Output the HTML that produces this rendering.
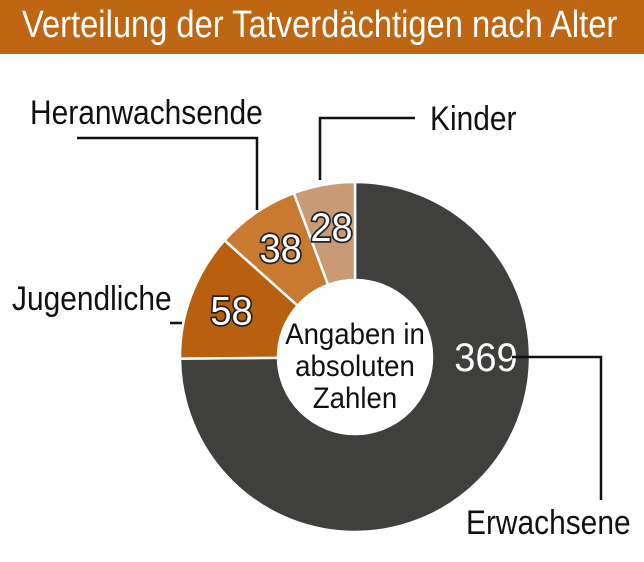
<!DOCTYPE html>
<html><head><meta charset="utf-8"><style>
body{margin:0;width:644px;height:562px;background:#fff;overflow:hidden;font-family:"Liberation Sans",sans-serif}
#title{position:absolute;left:0;top:0;width:644px;height:54px;background:#bf6613}
#title span{position:absolute;left:22px;top:4px;font-size:38px;color:#fff;transform:scaleX(0.86);transform-origin:left top;white-space:nowrap}
svg{position:absolute;left:0;top:0}
</style></head><body>
<div id="title"><span>Verteilung der Tatverdächtigen nach Alter</span></div>
<svg id="chart" width="644" height="562"></svg>
<script>
const categories=["Erwachsene","Jugendliche","Heranwachsende","Kinder"];
const values=[369,58,38,28];
const labels=["369","58","38","28"];
const colors=["#3f3f3d","#b85f10","#c87a30","#c99a76"];
const cx=355,cy=357,R=175,r=77;
const svg=document.getElementById('chart');
const NS="http://www.w3.org/2000/svg";
const total=values.reduce((a,b)=>a+b,0);
function pt(a,rad){return [cx+rad*Math.sin(a),cy-rad*Math.cos(a)];}
let a0=0;
values.forEach((v,i)=>{
  const a1=a0+v/total*2*Math.PI;
  const large=(a1-a0)>Math.PI?1:0;
  const p1=pt(a0,R),p2=pt(a1,R),p3=pt(a1,r),p4=pt(a0,r);
  const p=document.createElementNS(NS,'path');
  p.setAttribute('d',`M${p1} A${R},${R} 0 ${large} 1 ${p2} L${p3} A${r},${r} 0 ${large} 0 ${p4}Z`);
  p.setAttribute('fill',colors[i]);p.setAttribute('stroke','#fff');p.setAttribute('stroke-width','2.5');
  
  
  svg.appendChild(p);
  const am=i===0?Math.PI/2:(a0+a1)/2;
  const rm=i===0?(R+r)/2+5:(R+r)/2+6;
  const lp=pt(am,rm);
  const t=document.createElementNS(NS,'text');
  t.setAttribute('x',lp[0]);t.setAttribute('y',lp[1]+14);
  t.setAttribute('text-anchor','middle');t.setAttribute('font-size','40');
  t.setAttribute('fill','#fff');t.setAttribute('stroke',i===0?'none':'#222');t.setAttribute('stroke-width','3.5');
  t.setAttribute('paint-order','stroke');
  t.setAttribute('transform',`translate(${lp[0]},0) scale(0.95,1) translate(${-lp[0]},0)`);
  t.setAttribute('font-family','Liberation Sans, sans-serif');
  t.textContent=labels[i];
  
  
  svg.appendChild(t);
  a0=a1;
});
</script>
<svg width="644" height="562" font-family="Liberation Sans, sans-serif" font-size="34">
<g fill="#111" font-size="30">
<text x="355" y="344" text-anchor="middle" transform="translate(355,0) scale(0.92,1) translate(-355,0)">Angaben in</text>
<text x="355" y="376" text-anchor="middle" transform="translate(355,0) scale(0.92,1) translate(-355,0)">absoluten</text>
<text x="355" y="408" text-anchor="middle" transform="translate(355,0) scale(0.92,1) translate(-355,0)">Zahlen</text>
</g>
<g stroke="#111" stroke-width="2.5" fill="none">
<polyline points="77,138 257,138 257,210"/>
<polyline points="415,118 320,118 320,180"/>
<polyline points="170,323 182,323"/>
<polyline points="512,357 601,357 601,500"/>
</g>
<g fill="#111">
<text x="30" y="124" transform="translate(30,0) scale(0.88,1) translate(-30,0)">Heranwachsende</text>
<text x="430" y="130" transform="translate(430,0) scale(0.88,1) translate(-430,0)">Kinder</text>
<text x="12" y="310" transform="translate(12,0) scale(0.88,1) translate(-12,0)">Jugendliche</text>
<text x="466" y="534" transform="translate(466,0) scale(0.88,1) translate(-466,0)">Erwachsene</text>
</g>
</svg>
</body></html>
